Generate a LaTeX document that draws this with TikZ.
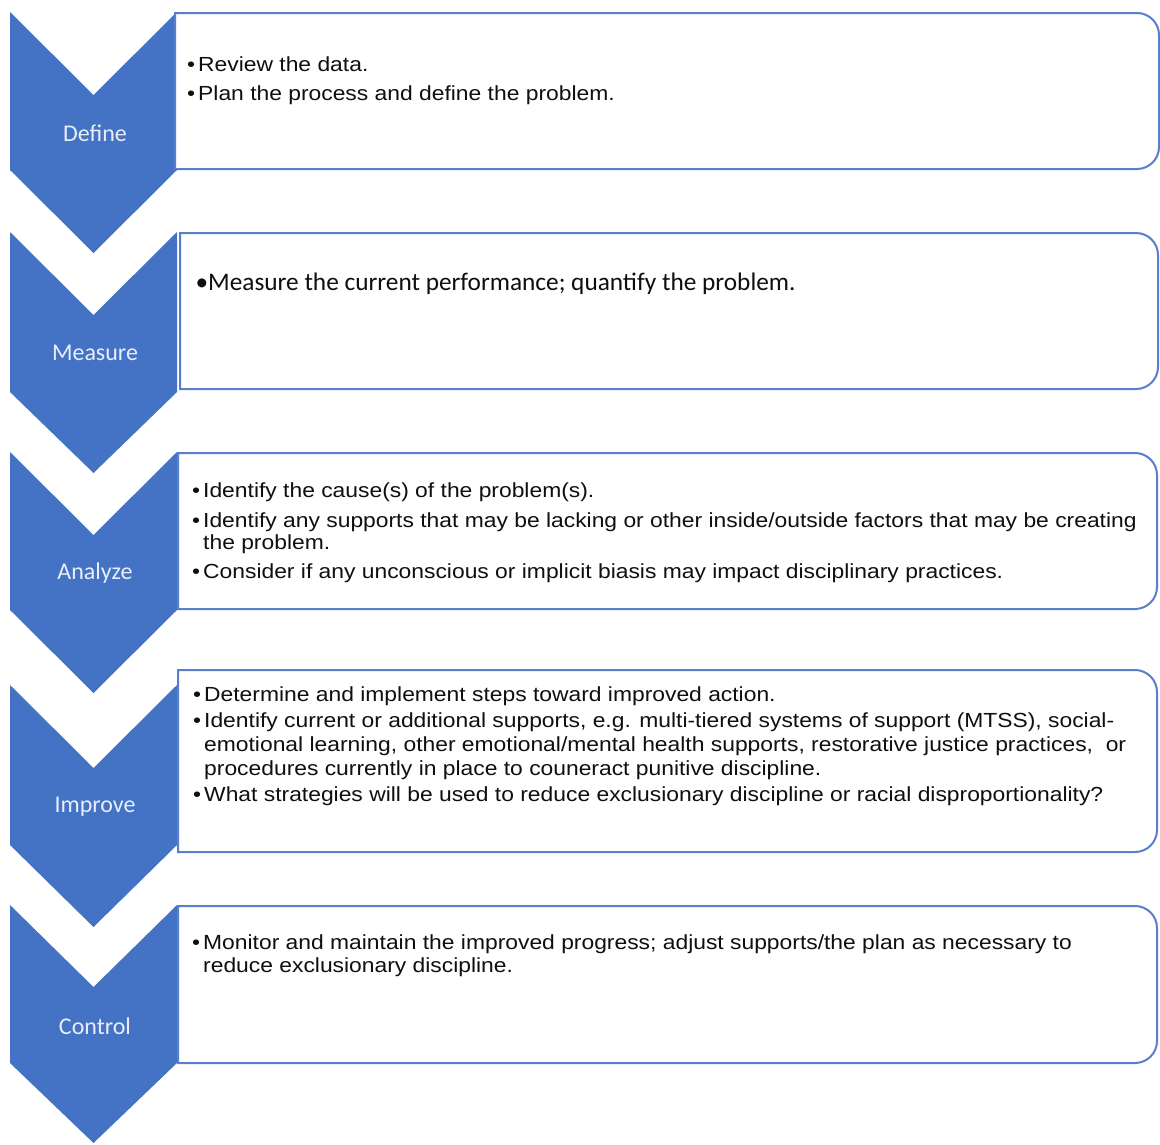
\documentclass[tikz,border=0pt]{standalone}
\usepackage{fontspec}
\setmainfont{Liberation Sans}
\newfontfamily\arialx{Liberation Sans}[FakeStretch=1.12]
\newfontfamily\calib{Carlito}
\definecolor{chev}{RGB}{68,114,196}
\definecolor{boxln}{RGB}{88,126,204}
\definecolor{lbl}{RGB}{232,238,250}
\definecolor{txtc}{RGB}{15,15,15}
\newcommand\mybul{\llap{•\hspace{3pt}}}
\tikzset{
  chevshape/.style={fill=chev},
  boxline/.style={draw=boxln, line width=2pt, fill=white},
  chevlabel/.style={text=lbl, font=\calib\fontsize{24}{28}\selectfont, inner sep=0pt},
  txt/.style={anchor=north west, align=left, inner sep=0pt, text=txtc}
}
\begin{document}
\begin{tikzpicture}[x=1pt,y=1pt]
\useasboundingbox (0,0) rectangle (1160,-1144);
\fill[white] (0,0) rectangle (1160,-1144);
% chevrons
\foreach \t/\n/\s/\p in {12/95/170/253, 232/315/392/473, 452/535/610/693, 685/768/845/927, 905/987/1063/1143}
  \fill[chevshape] (10,-\t) -- (93.5,-\n) -- (177,-\t) -- (177,-\s) -- (93.5,-\p) -- (10,-\s) -- cycle;
% boxes
\foreach \xa/\xb/\ya/\yb in {175/1159/13/169, 180/1158/233/389, 178/1157/453/609, 178/1157/670/852, 178/1157/906/1063}
  \draw[boxline] (\xa,-\ya) -- ({\xb-22},-\ya) arc[start angle=90,end angle=0,radius=22]
     -- (\xb,{-\yb+22}) arc[start angle=0,end angle=-90,radius=22] -- (\xa,-\yb) -- cycle;
% chevron labels
\node[chevlabel] (lDefine) at (95,-133) {Define};
\node[chevlabel] (lMeasure) at (95,-353) {Measure};
\node[chevlabel] (lAnalyze) at (95,-573) {Analyze};
\node[chevlabel] (lImprove) at (95,-807) {Improve};
\node[chevlabel] (lControl) at (95,-1026) {Control};
% box texts
\node[txt, font=\arialx\fontsize{20.4}{24}\selectfont] (tDefine) at (198,{-71+16.8})
  {\strut\mybul Review the data.\\[5pt]
   \mybul Plan the process and define the problem.};
\node[txt, font=\calib\fontsize{25.3}{30}\selectfont] (tMeasure) at (208,{-290+21})
  {\strut\llap{•}Measure the current performance; quantify the problem.};
\node[txt, font=\arialx\fontsize{20.4}{22}\selectfont] (tAnalyze) at (203,{-497+15.4})
  {\strut\mybul Identify the cause(s) of the problem(s).\\[8pt]
   \mybul Identify any supports that may be lacking or other inside/outside factors that may be creating\\
   the problem.\\[7pt]
   \mybul Consider if any unconscious or implicit biasis may impact disciplinary practices.};
\node[txt, font=\arialx\fontsize{20.4}{24}\selectfont] (tImprove) at (204,{-701+16.8})
  {\strut\mybul Determine and implement steps toward improved action.\\[2pt]
   \mybul Identify current or additional supports, e.g. multi-tiered systems of support (MTSS), social-\\
   emotional learning, other emotional/mental health supports, restorative justice practices,\ \ or\\
   procedures currently in place to couneract punitive discipline.\\[2pt]
   \mybul What strategies will be used to reduce exclusionary discipline or racial disproportionality?};
\node[txt, font=\arialx\fontsize{20.4}{23}\selectfont] (tControl) at (203,{-949+16.1})
  {\strut\mybul Monitor and maintain the improved progress; adjust supports/the plan as necessary to\\
   reduce exclusionary discipline.};
\end{tikzpicture}
\end{document}
